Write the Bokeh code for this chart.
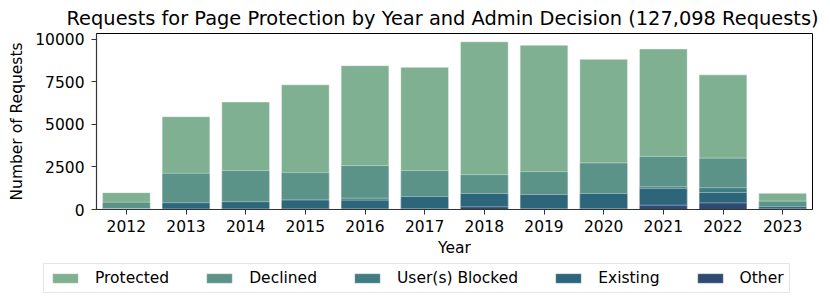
from bokeh.plotting import figure
from bokeh.layouts import column
from bokeh.models import (ColumnDataSource, Legend, LegendItem, FactorRange,
                          Range1d, Title, FixedTicker)
from bokeh.embed import file_html
from bokeh.resources import INLINE

years = ["2012", "2013", "2014", "2015", "2016", "2017",
         "2018", "2019", "2020", "2021", "2022", "2023"]

# each series is drawn from zero, in this order (tallest first)
protected = [990, 5460, 6320, 7330, 8460, 8360, 9860, 9660, 8830, 9440, 7920, 950]
declined = [430, 2130, 2290, 2170, 2580, 2290, 2050, 2230, 2740, 3120, 3020, 490]
blocked = [40, 330, 380, 460, 665, 620, 720, 660, 720, 1340, 1280, 120]
existing = [50, 400, 460, 560, 550, 760, 940, 880, 940, 1240, 1000, 170]
other = [20, 30, 35, 40, 45, 50, 160, 50, 50, 250, 390, 40]

series_names = ["Protected", "Declined", "User(s) Blocked", "Existing", "Other"]
series_values = [protected, declined, blocked, existing, other]
series_colors = ["#7fb092", "#5b9389", "#407c81", "#2d657b", "#2e4a72"]

y_ticks = [0, 2500, 5000, 7500, 10000]

FONT = "DejaVu Sans"
H_MAIN = 260
H_LEG = 45

p = figure(x_range=FactorRange(*years, range_padding=0),
           y_range=Range1d(0, 10350),
           width=830, height=H_MAIN,
           output_backend="svg", toolbar_location=None,
           min_border_left=96, min_border_right=18,
           min_border_top=0, min_border_bottom=51)
p.frame_align = False

p.add_layout(Title(text="Requests for Page Protection by Year and Admin Decision (127,098 Requests)",
                   align="left", offset=-30, text_font=FONT, text_font_size="19.4px",
                   text_font_style="normal", text_color="black", standoff=8), "above")

for name, vals, col in zip(series_names, series_values, series_colors):
    src = ColumnDataSource(dict(x=years, top=vals))
    p.vbar(x="x", top="top", bottom=0, width=0.8, source=src,
           fill_color=col, line_color="white", line_alpha=0.5, line_width=0.8)

p.xgrid.visible = False
p.ygrid.visible = False
p.outline_line_color = "black"
p.outline_line_width = 1

for ax in (p.xaxis[0], p.yaxis[0]):
    ax.major_label_text_font = FONT
    ax.major_label_text_font_size = "15.5px"
    ax.major_label_text_color = "black"
    ax.axis_label_text_font = FONT
    ax.axis_label_text_font_size = "15.5px"
    ax.axis_label_text_font_style = "normal"
    ax.axis_label_text_color = "black"
    ax.axis_line_color = "#333333"
    ax.axis_line_width = 1.2
    ax.major_tick_line_color = "#333333"
    ax.major_tick_out = 5
    ax.major_tick_in = 0
    ax.minor_tick_line_color = None

p.xaxis.axis_label = "Year"
p.xaxis.major_label_standoff = 5
p.xaxis.axis_label_standoff = 4
p.yaxis.axis_label = "Number of Requests"
p.yaxis.ticker = FixedTicker(ticks=y_ticks)
p.yaxis.major_label_standoff = 7
p.yaxis.axis_label_standoff = 6

# legend strip under the chart
lf = figure(x_range=Range1d(0, 1), y_range=Range1d(0, 1),
            width=830, height=H_LEG, output_backend="svg", toolbar_location=None,
            x_axis_type=None, y_axis_type=None,
            min_border_left=0, min_border_right=0, min_border_top=0, min_border_bottom=0)
lf.frame_align = False
lf.outline_line_color = None
lf.xgrid.visible = False
lf.ygrid.visible = False

items = []
for name, col in zip(series_names, series_colors):
    # zero-height swatch renderer, only so the legend has a glyph to draw
    r = lf.vbar(x=[0.5], top=[0], bottom=0, width=0.01, fill_color=col,
                line_color="white", line_alpha=0.5, line_width=0.8)
    items.append(LegendItem(label=name, renderers=[r]))

legend = Legend(items=items, orientation="horizontal", location=(43, 12),
                label_text_font=FONT, label_text_font_size="15.5px",
                label_text_color="black",
                glyph_width=32, glyph_height=12, label_height=16,
                label_standoff=14, spacing=34, padding=5, margin=0,
                border_line_color="#cccccc", border_line_width=1.2,
                background_fill_color="white", background_fill_alpha=1)
lf.add_layout(legend, "center")

layout = column(p, lf, spacing=0)
open("out.html", "w").write(file_html(layout, INLINE))
